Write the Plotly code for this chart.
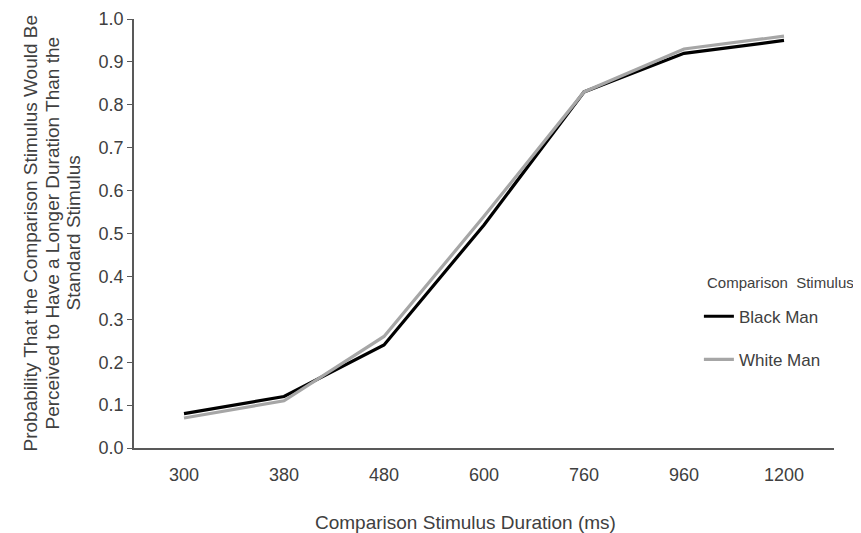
import plotly.graph_objects as go

durations = ["300", "380", "480", "600", "760", "960", "1200"]
black_man = [0.08, 0.12, 0.24, 0.52, 0.83, 0.92, 0.95]
white_man = [0.07, 0.11, 0.26, 0.54, 0.83, 0.93, 0.96]
y_title_lines = [
    "Probability That the Comparison Stimulus Would Be",
    "Perceived to Have a Longer Duration Than the",
    "Standard Stimulus",
]
x_title = "Comparison Stimulus Duration (ms)"

text_color = "#404040"
font_family = "Liberation Sans, Arial, sans-serif"

fig = go.Figure()
fig.add_trace(go.Scatter(x=durations, y=black_man, mode="lines", name="Black Man",
                         line=dict(color="#000000", width=3.2), legendgroup="b"))
fig.add_trace(go.Scatter(x=durations, y=white_man, mode="lines", name="White Man",
                         line=dict(color="#a6a6a6", width=3.2), legendgroup="w"))

# y-axis title as three rotated lines (tighter line spacing than plotly's default)
for shift, line in zip([-104, -82, -61], y_title_lines):
    fig.add_annotation(text=line, xref="paper", yref="paper", x=0, y=0.5,
                       xanchor="center", yanchor="middle", xshift=shift,
                       textangle=-90, showarrow=False,
                       font=dict(size=19, color=text_color))

fig.add_annotation(text=x_title, xref="paper", yref="paper",
                   x=0.474, y=-0.173, xanchor="center", yanchor="middle",
                   showarrow=False, font=dict(size=19, color=text_color))

fig.add_annotation(text="Comparison  Stimulus", xref="paper", yref="paper",
                   x=0.816, y=0.385, xanchor="left", yanchor="middle",
                   showarrow=False, font=dict(size=15, color=text_color))

fig.update_layout(
    width=853, height=525,
    margin=dict(l=126, r=27, t=11, b=85),
    paper_bgcolor="white", plot_bgcolor="white",
    font=dict(family=font_family, color=text_color, size=17),
    legend=dict(
        x=0.807, y=0.348, xanchor="left", yanchor="top",
        font=dict(size=17, color=text_color),
        tracegroupgap=18, itemwidth=30,
        bgcolor="rgba(255,255,255,0)",
    ),
)
fig.update_xaxes(
    type="category", range=[-0.5, 6.5], automargin=False,
    showline=True, linecolor="#595959", linewidth=1.5,
    ticks="", showgrid=False, zeroline=False,
    tickfont=dict(size=18, color=text_color), ticklabelstandoff=10,
)
fig.update_yaxes(
    range=[0, 1.0], dtick=0.1, tickformat=".1f", automargin=False,
    ticklabeloverflow="allow",
    showline=True, linecolor="#595959", linewidth=1.5,
    ticks="outside", ticklen=5, tickcolor="#595959", showgrid=False, zeroline=False,
    tickfont=dict(size=18, color=text_color),
)

fig.write_html("out.html")
